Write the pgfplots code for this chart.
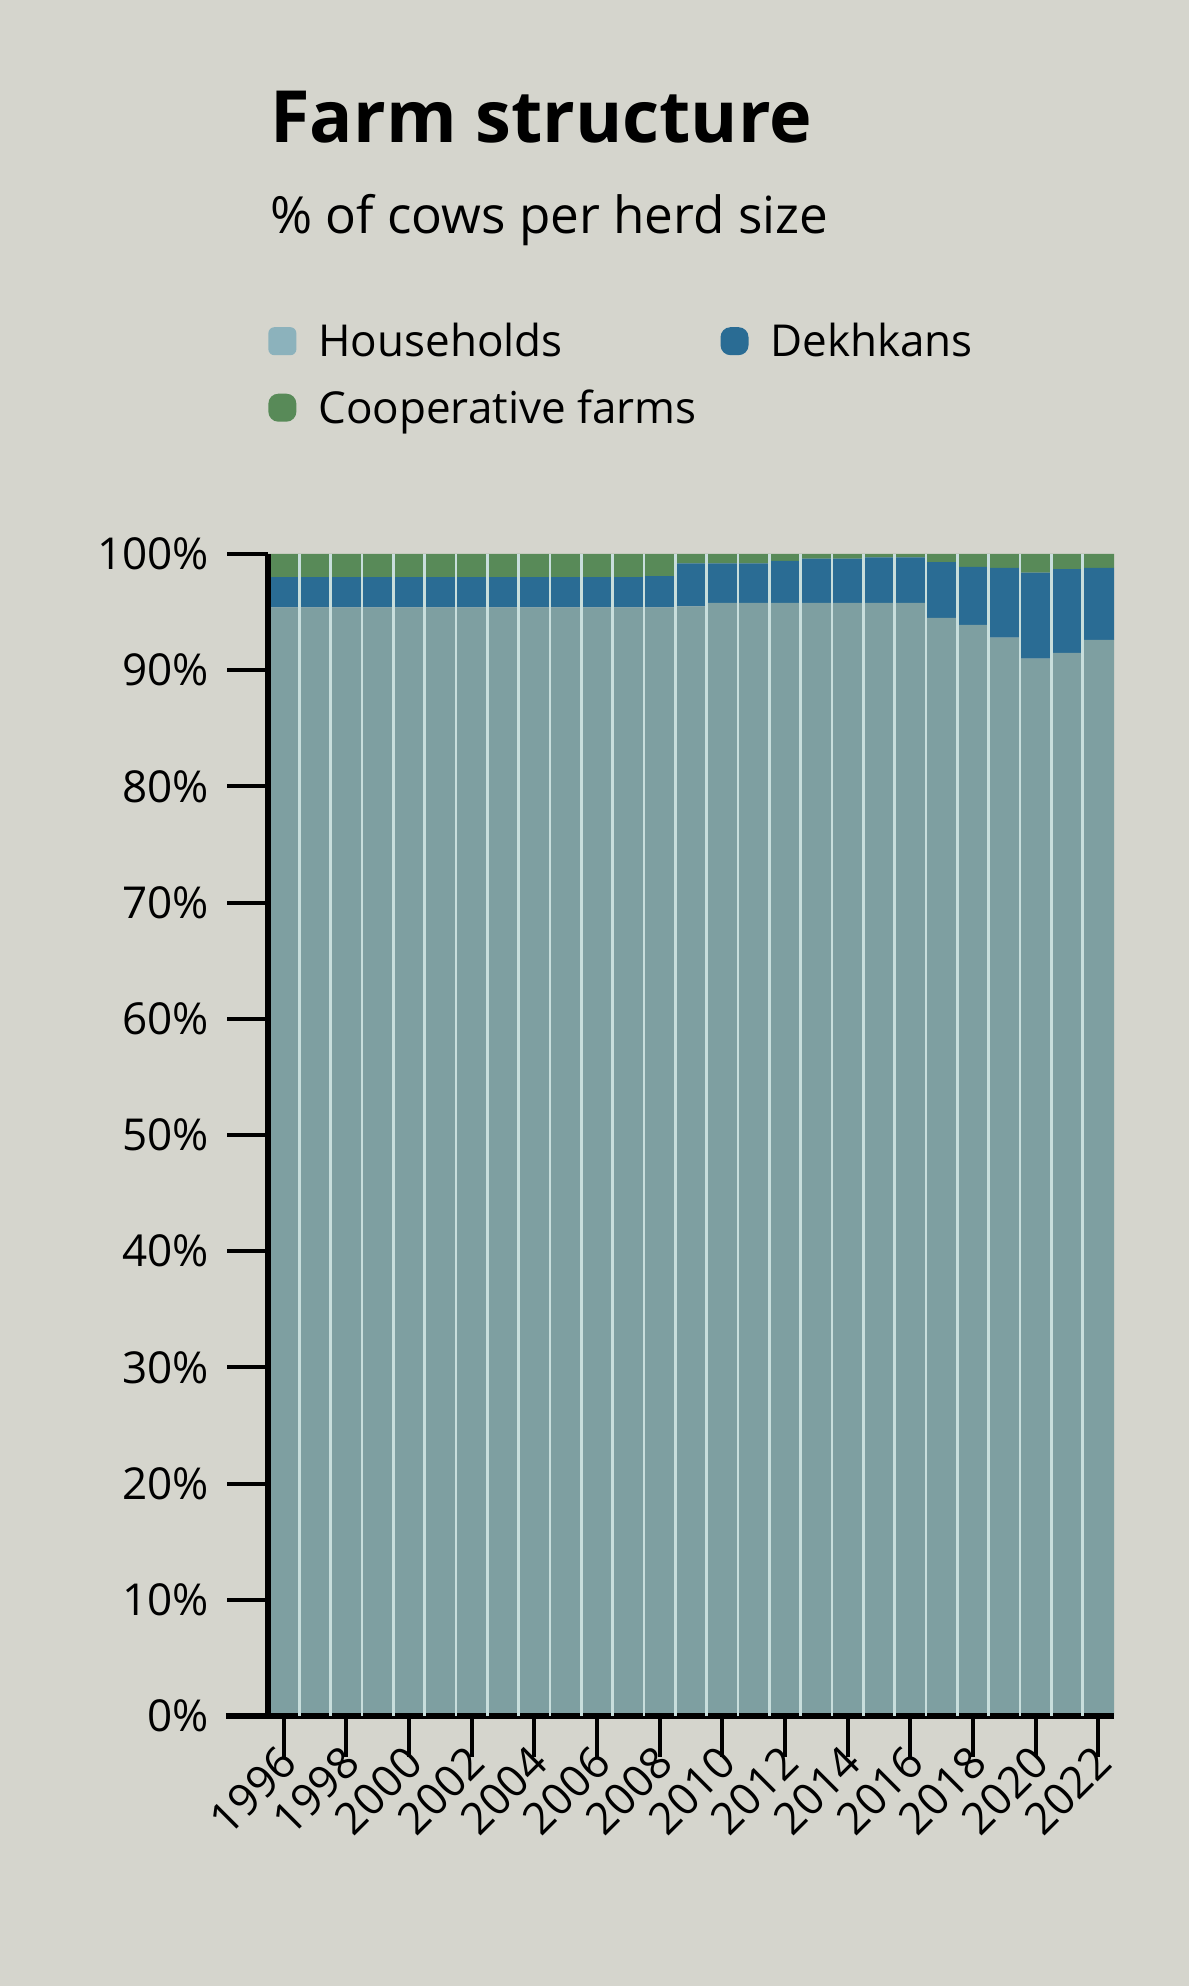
\documentclass[border=0pt]{standalone}
\usepackage{pgfplots}
\pgfplotsset{compat=1.18}
\usepackage{pgfplotstable}
\usepackage{fontspec}
\setmainfont{Open Sans}
\definecolor{paper}{RGB}{213,213,205}
\definecolor{hh}{RGB}{126,159,161}
\definecolor{hhleg}{RGB}{140,178,188}
\definecolor{dk}{RGB}{42,108,148}
\definecolor{coop}{RGB}{88,138,88}
\definecolor{gapc}{RGB}{200,222,220}

\pgfplotstableread{
year hh dk coop
1996 95.4 2.6 2.0
1997 95.4 2.6 2.0
1998 95.4 2.6 2.0
1999 95.4 2.6 2.0
2000 95.4 2.6 2.0
2001 95.4 2.6 2.0
2002 95.4 2.6 2.0
2003 95.4 2.6 2.0
2004 95.4 2.6 2.0
2005 95.4 2.6 2.0
2006 95.4 2.6 2.0
2007 95.4 2.6 2.0
2008 95.4 2.7 1.9
2009 95.5 3.7 0.8
2010 95.8 3.4 0.8
2011 95.8 3.4 0.8
2012 95.8 3.6 0.6
2013 95.8 3.8 0.4
2014 95.8 3.8 0.4
2015 95.8 3.9 0.3
2016 95.8 3.9 0.3
2017 94.5 4.8 0.7
2018 93.9 5.0 1.1
2019 92.8 6.0 1.2
2020 91.0 7.4 1.6
2021 91.5 7.2 1.3
2022 92.6 6.2 1.2
}\farmdata

\begin{document}
\begin{tikzpicture}
\path[fill=paper] (0bp,0bp) rectangle (594.5bp,993bp);
\node[anchor=base west, inner sep=0pt, font=\fontsize{36bp}{40bp}\selectfont\bfseries] at (135bp,921.5bp) {Farm structure};
\node[anchor=base west, inner sep=0pt, font=\fontsize{25.6bp}{30bp}\selectfont] at (135bp,876bp) {\% of cows per herd size};
\begin{axis}[
  at={(134bp,135bp)}, anchor=south west,
  scale only axis, width=423bp, height=581bp,
  ybar stacked, bar width=15.67bp,
  xmin=1995.5, xmax=2022.5, ymin=0, ymax=100,
  axis x line*=bottom, axis y line*=left,
  axis line style={line width=2.6bp, black},
  separate axis lines,
  x axis line style={shorten <=-21bp},
  tick align=outside,
  major tick length=20.5bp,
  ytick={0,10,...,100},
  yticklabels={0\%,10\%,20\%,30\%,40\%,50\%,60\%,70\%,80\%,90\%,100\%},
  xtick={1996,1998,...,2022},
  xticklabels={1996,1998,2000,2002,2004,2006,2008,2010,2012,2014,2016,2018,2020,2022},
  tick style={line width=2bp, black},
  tick label style={font=\fontsize{22bp}{26bp}\selectfont},
  yticklabel style={xshift=-5.5bp},
  xticklabel style={rotate=45, anchor=east, xshift=6bp, yshift=-1bp},
  extra x ticks={1996.5,1997.5,...,2021.5},
  extra x tick labels={},
  extra x tick style={tick style={draw=none}, grid=major, major grid style={line width=1.3bp, gapc}},
  axis on top,
  legend columns=2,
  legend style={at={(rel axis cs:0,1.206)}, anchor=north west, xshift=-3bp, draw=none, fill=none,
    font=\fontsize{22bp}{26bp}\selectfont, row sep=11bp,
    /tikz/every odd column/.append style={column sep=9bp},
    /tikz/every even column/.append style={column sep=10bp}},
  legend cell align=left,
]
\addplot[fill=hh, draw=none, legend image code/.code={\fill[hhleg, rounded corners=3bp] (0bp,-7bp) rectangle (14bp,7bp);}] table[x=year,y=hh] {\farmdata};
\addlegendentry{Households}
\addplot[fill=dk, draw=none, legend image code/.code={\fill[dk, rounded corners=5bp] (0bp,-7bp) rectangle (14bp,7bp);}] table[x=year,y=dk] {\farmdata};
\addlegendentry{Dekhkans}
\addplot[fill=coop, draw=none, legend image code/.code={\fill[coop, rounded corners=5bp] (0bp,-7bp) rectangle (14bp,7bp);}] table[x=year,y=coop] {\farmdata};
\addlegendentry{Cooperative farms}
\end{axis}
\end{tikzpicture}
\end{document}
